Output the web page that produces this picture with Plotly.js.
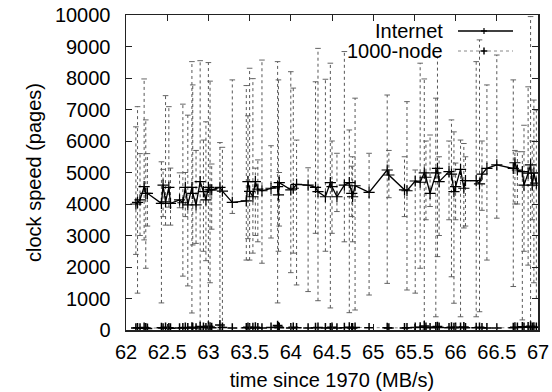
<!DOCTYPE html>
<html><head><meta charset="utf-8">
<script src="https://cdn.plot.ly/plotly-3.0.1.min.js"></script>
<style>html,body{margin:0;padding:0;background:#fff}</style>
</head><body><div id="chart" style="width:552px;height:392px"></div>
<script>
const seriesNames = ['Internet', '1000-node'];
const xTicks = [62, 62.5, 63, 63.5, 64, 64.5, 65, 65.5, 66, 66.5, 67];
const xTickText = ['62', '62.5', '63', '63.5', '64', '64.5', '65', '65.5', '66', '66.5', '67'];
const yTicks = [0, 1000, 2000, 3000, 4000, 5000, 6000, 7000, 8000, 9000, 10000];
const yTickText = ['0', '1000', '2000', '3000', '4000', '5000', '6000', '7000', '8000', '9000', '10000'];

const timeX = [62.12, 62.14, 62.17, 62.22, 62.24, 62.26, 62.43, 62.45, 62.48, 62.52,
  62.54, 62.65, 62.69, 62.72, 62.75, 62.80, 62.81, 62.85, 62.90, 62.94,
  62.97, 63.00, 63.02, 63.04, 63.14, 63.17, 63.29, 63.46, 63.48, 63.50,
  63.54, 63.57, 63.60, 63.65, 63.76, 63.84, 63.85, 63.86, 64.00, 64.03,
  64.07, 64.21, 64.30, 64.33, 64.42, 64.48, 64.50, 64.56, 64.65, 64.71,
  64.74, 64.75, 64.78, 64.95, 65.17, 65.19, 65.38, 65.41, 65.51, 65.57,
  65.62, 65.64, 65.69, 65.76, 65.78, 65.80, 65.92, 65.95, 65.98, 66.00,
  66.06, 66.10, 66.12, 66.25, 66.29, 66.32, 66.38, 66.50, 66.70, 66.72,
  66.75, 66.81, 66.83, 66.88, 66.91, 66.93, 66.95, 66.98];
const internetY = [4000, 4050, 4130, 4550, 4340, 4340, 4020, 4600, 4070, 4530,
  4020, 4130, 4040, 4530, 3970, 4530, 4340, 3970, 4710, 4390,
  4130, 4530, 4450, 4450, 4530, 4410, 4050, 4100, 4710, 4400,
  4230, 4710, 4470, 4420, 4500, 4550, 4290, 4680, 4450, 4500,
  4620, 4600, 4530, 4390, 4230, 4680, 4550, 4230, 4600, 4680,
  4340, 4230, 4580, 4370, 5080, 4920, 4450, 4420, 4730, 4690,
  4990, 4850, 4340, 4990, 5130, 4710, 5030, 4950, 4390, 4550,
  5100, 4500, 4740, 4740, 4640, 4950, 5130, 5240, 5130, 5310,
  5080, 5030, 4600, 4980, 5240, 4600, 4980, 4660];
const internetLow = [2400, 1170, 3000, 2860, 1960, 3300, 860, 3600, 3330, 3900,
  3330, 3880, 1710, 3600, 1400, 540, 2700, 2750, 20, 2500,
  2200, 30, 1500, 3200, 0, 100, 3700, 2220, 2900, 2220,
  2440, 3000, 2800, 2120, 2920, 860, 2500, 3300, 1820, 2440,
  1430, 1220, 3070, 930, 2500, 700, 3070, 3760, 2800, 550,
  3600, 2800, 635, 1110, 1480, 4200, 3600, 1270, 1170, 1960,
  30, 3500, 3920, 420, 2330, 3000, 3500, 1690, 850, 3500,
  420, 3240, 3300, 420, 580, 3800, 2220, 3550, 1380, 4000,
  4000, 320, 2500, 2060, 30, 3500, 1500, 1000];
const internetHigh = [6450, 7090, 5600, 7970, 6670, 5600, 5340, 5100, 7440, 7090,
  5140, 4990, 7170, 5000, 6820, 8520, 7780, 5700, 8550, 6030,
  6610, 8490, 7900, 5270, 5950, 5800, 7940, 7760, 6800, 8310,
  7980, 5140, 5400, 8570, 5850, 8520, 7940, 5000, 8200, 7680,
  6030, 5150, 7880, 8940, 7960, 8470, 6000, 5610, 8840, 6350,
  5200, 5500, 7360, 5610, 7460, 5700, 5500, 7250, 5080, 8470,
  7970, 6000, 6190, 7360, 8680, 5500, 6000, 6670, 6290, 5300,
  6030, 5920, 5500, 8520, 9210, 6000, 7780, 8730, 7940, 5700,
  5660, 5660, 6500, 7720, 9950, 6000, 7300, 6980];
const nodeY = [60, 70, 55, 80, 65, 50, 75, 60, 85, 70,
  55, 60, 70, 80, 65, 90, 75, 60, 110, 85,
  70, 120, 90, 75, 160, 80, 60, 70, 85, 65,
  75, 90, 70, 60, 80, 140, 95, 75, 65, 85,
  70, 60, 75, 80, 65, 70, 85, 60, 75, 90,
  70, 65, 80, 70, 75, 60, 65, 70, 80, 90,
  130, 85, 70, 95, 110, 80, 70, 90, 75, 85,
  80, 95, 70, 75, 85, 70, 65, 60, 75, 90,
  80, 100, 85, 95, 120, 80, 90, 85];

const ebX = [], ebY = [], capX = [], capY = [];
timeX.forEach((x, i) => {
  ebX.push(x, x, null); ebY.push(internetLow[i], internetHigh[i], null);
  capX.push(x, x); capY.push(internetLow[i], internetHigh[i]);
});

const traces = [
  {x: ebX, y: ebY, mode: 'lines', line: {color: '#444', width: 0.9, dash: 'dot'}, hoverinfo: 'skip', showlegend: false},
  {x: capX, y: capY, mode: 'markers', marker: {symbol: 'line-ew-open', size: 4, color: '#555', line: {color: '#555', width: 0.9}}, hoverinfo: 'skip', showlegend: false},
  {x: timeX, y: nodeY, name: seriesNames[1], mode: 'lines+markers', line: {color: '#888', width: 1, dash: 'dot'},
   marker: {symbol: 'cross-thin-open', size: 7, color: '#000', line: {color: '#000', width: 1.5}}, showlegend: false},
  {x: timeX, y: internetY, name: seriesNames[0], mode: 'lines+markers', line: {color: '#000', width: 1.3},
   marker: {symbol: 'cross-thin-open', size: 8, color: '#000', line: {color: '#000', width: 1.2}}, showlegend: false}
];

const font = {family: 'Liberation Sans, Arial, sans-serif', size: 20, color: '#000'};
const pw = 412, ph = 315;
const px = v => v / pw, py = v => v / ph;
const lx0 = px(458 - 126), lx1 = px(513 - 126), lmx = px(484 - 126);
const ly1 = py(330 - 31), ly2 = py(330 - 51);
const shapes = [
  {type: 'line', xref: 'paper', yref: 'paper', x0: lx0, x1: lx1, y0: ly1, y1: ly1, line: {color: '#000', width: 1.3}},
  {type: 'line', xref: 'paper', yref: 'paper', x0: lmx - px(3), x1: lmx + px(3), y0: ly1, y1: ly1, line: {color: '#000', width: 1.2}},
  {type: 'line', xref: 'paper', yref: 'paper', x0: lmx, x1: lmx, y0: ly1 - py(3), y1: ly1 + py(3), line: {color: '#000', width: 1.2}},
  {type: 'line', xref: 'paper', yref: 'paper', x0: lx0, x1: lx1, y0: ly2, y1: ly2, line: {color: '#888', width: 1, dash: 'dot'}},
  {type: 'line', xref: 'paper', yref: 'paper', x0: lmx - px(3.5), x1: lmx + px(3.5), y0: ly2, y1: ly2, line: {color: '#000', width: 1.5}},
  {type: 'line', xref: 'paper', yref: 'paper', x0: lmx, x1: lmx, y0: ly2 - py(3.5), y1: ly2 + py(3.5), line: {color: '#000', width: 1.5}}
];
const annotations = [
  {text: seriesNames[0], xref: 'paper', yref: 'paper', x: px(445 - 126), y: ly1, xanchor: 'right', yanchor: 'middle', showarrow: false, font: font},
  {text: seriesNames[1], xref: 'paper', yref: 'paper', x: px(445 - 126), y: ly2, xanchor: 'right', yanchor: 'middle', showarrow: false, font: font}
];

const axisCommon = {
  showline: true, linecolor: '#222', linewidth: 1.5, mirror: 'ticks',
  ticks: 'inside', ticklen: 6, tickwidth: 1, tickcolor: '#222',
  showgrid: false, zeroline: false, tickfont: font, automargin: false
};

const layout = {
  width: 552, height: 392,
  margin: {l: 126, r: 14, t: 15, b: 62},
  paper_bgcolor: '#fff', plot_bgcolor: '#fff',
  font: font,
  showlegend: false,
  xaxis: Object.assign({}, axisCommon, {
    range: [62, 67], tickvals: xTicks, ticktext: xTickText, ticklabelstandoff: 3,
    title: {text: 'time since 1970 (MB/s)', font: font, standoff: 11}
  }),
  yaxis: Object.assign({}, axisCommon, {
    range: [0, 10000], tickvals: yTicks, ticktext: yTickText, ticklabelstandoff: 10,
    title: {text: 'clock speed (pages)', font: font, standoff: 8}
  }),
  shapes: shapes,
  annotations: annotations
};

Plotly.newPlot('chart', traces, layout, {staticPlot: true, displayModeBar: false});
</script>
</body></html>
